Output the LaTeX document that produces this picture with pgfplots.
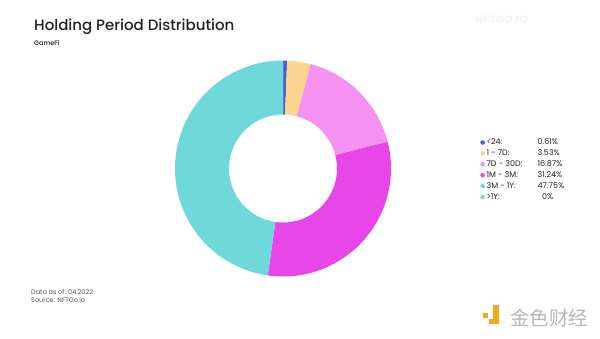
\documentclass[border=0pt]{standalone}
\usepackage{fontspec}
\setmainfont{Poppins}
\newfontfamily\titlefont{Poppins Medium}
\newfontfamily\cjk{Noto Sans CJK SC}
\usepackage{pgfplots}
\usepackage{pgfplotstable}
\pgfplotsset{compat=1.18}
\definecolor{slice0}{HTML}{4B5FD3}
\definecolor{slice1}{HTML}{FAD491}
\definecolor{slice2}{HTML}{F592F1}
\definecolor{slice3}{HTML}{E946EA}
\definecolor{slice4}{HTML}{6FD9D9}
\definecolor{slice5}{HTML}{7FD6DA}
\definecolor{txt}{HTML}{222222}
\definecolor{gr}{HTML}{555555}
\definecolor{logoor}{HTML}{F4A81D}
\pgfplotstableread{
pct
0.61
3.53
16.87
31.24
47.75
0
}\datatable
\begin{document}
\begin{tikzpicture}
\path[use as bounding box,fill=white] (0pt,0pt) rectangle (600pt,338pt);
\begin{axis}[
  hide axis, scale only axis, clip=false,
  width=216pt, height=216pt,
  xmin=-1,xmax=1,ymin=-1,ymax=1,
  at={(283pt,169.5pt)}, anchor=center,
  legend style={at={(1.40,0.657)}, anchor=north west, draw=none, fill=none,
    font=\fontsize{8}{8}\selectfont\color{txt}, row sep=-0.5pt,
    legend cell align=left},
]
\pgfplotstablegetrowsof{\datatable}
\pgfmathtruncatemacro\N{\pgfplotsretval-1}
\def\cum{0}
\pgfplotsforeachungrouped \i in {0,...,\N}{%
  \pgfplotstablegetelem{\i}{pct}\of\datatable
  \let\p=\pgfplotsretval
  \pgfmathsetmacro\a{90-3.6*\cum}%
  \pgfmathsetmacro\b{90-3.6*(\cum+\p)}%
  \pgfmathsetmacro\cum{\cum+\p}%
  \edef\temp{\noexpand\fill[slice\i] (axis cs:{cos(\a)},{sin(\a)}) arc[start angle=\a,end angle=\b,radius=108pt] -- (axis cs:{0.5*cos(\b)},{0.5*sin(\b)}) arc[start angle=\b,end angle=\a,radius=54pt] -- cycle;}%
  \temp
}
\addlegendimage{only marks, mark=*, mark size=2pt, mark options={draw=slice0,fill=slice0}}
\addlegendentry{\makebox[51pt][l]{<24:}0.61\%}
\addlegendimage{only marks, mark=*, mark size=2pt, mark options={draw=slice1,fill=slice1}}
\addlegendentry{\makebox[51pt][l]{1 - 7D:}3.53\%}
\addlegendimage{only marks, mark=*, mark size=2pt, mark options={draw=slice2,fill=slice2}}
\addlegendentry{\makebox[51pt][l]{7D - 30D:}16.87\%}
\addlegendimage{only marks, mark=*, mark size=2pt, mark options={draw=slice3,fill=slice3}}
\addlegendentry{\makebox[51pt][l]{1M - 3M:}31.24\%}
\addlegendimage{only marks, mark=*, mark size=2pt, mark options={draw=slice4,fill=slice4}}
\addlegendentry{\makebox[51pt][l]{3M - 1Y:}47.75\%}
\addlegendimage{only marks, mark=*, mark size=2pt, mark options={draw=slice5,fill=slice5}}
\addlegendentry{\makebox[51pt][l]{>1Y:}\hspace{4.5pt}0\%}
\end{axis}
% titles
\node[anchor=base west, inner sep=0, text=txt, font=\titlefont\fontsize{15}{18}\selectfont] at (34pt,307pt) {Holding Period Distribution};
\node[anchor=base west, inner sep=0, text=txt, font=\titlefont\fontsize{6.5}{8}\selectfont] at (34pt,292pt) {GameFi};
\node[anchor=base west, inner sep=0, text=gr, font=\fontsize{6.5}{8}\selectfont] at (31pt,44pt) {Data as of: 04.2022};
\node[anchor=base west, inner sep=0, text=gr, font=\fontsize{6.5}{8}\selectfont] at (31pt,35.5pt) {Source: NFTGo.io};
% watermark
\node[anchor=base west, inner sep=0, text=black!4, font=\fontsize{11}{12}\selectfont\bfseries] at (475pt,314pt) {NFTGO.IO};
% logo
\fill[logoor] (483pt,20pt) rectangle (488pt,25pt);
\fill[logoor] (493pt,14pt) rectangle (499pt,33pt);
\fill[logoor] (489pt,14pt) rectangle (499pt,19pt);
\node[anchor=base west, inner sep=0, text=black!28, font=\cjk\fontsize{19.5}{20}\selectfont] at (510pt,13pt) {金色财经};
\end{tikzpicture}
\end{document}
